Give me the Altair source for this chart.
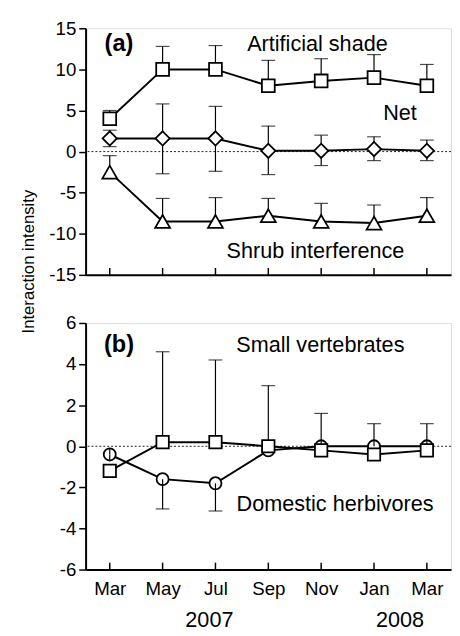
import altair as alt
import pandas as pd

periods = ["Mar 2007", "May 2007", "Jul 2007", "Sep 2007", "Nov 2007", "Jan 2008", "Mar 2008"]
y_ticks_a = [-15, -10, -5, 0, 5, 10, 15]
y_ticks_b = [-6, -4, -2, 0, 2, 4, 6]

# Panel (a)
shade = [4.0, 10.0, 10.0, 8.0, 8.6, 9.0, 8.0]
shade_hi = [5.0, 12.8, 12.9, 11.1, 11.3, 11.8, 10.6]
net = [1.6, 1.6, 1.6, 0.1, 0.1, 0.3, 0.1]
net_hi = [2.6, 5.8, 5.5, 3.1, 2.0, 1.8, 1.4]
net_lo = [0.6, -2.7, -2.4, -2.8, -1.7, -1.1, -1.1]
shrub = [-2.5, -8.5, -8.5, -7.8, -8.5, -8.7, -7.8]
shrub_hi = [-0.5, -5.7, -5.6, -5.7, -6.3, -6.5, -5.6]

# Panel (b)
small_vert = [-1.2, 0.2, 0.2, 0.0, -0.2, -0.4, -0.2]
small_vert_hi = [None, 4.6, 4.2, 2.95, None, None, None]
herb = [-0.4, -1.6, -1.8, -0.2, 0.0, 0.0, 0.0]
herb_hi = [-0.1, None, None, None, 1.6, 1.1, 1.1]
herb_lo = [-0.7, -3.05, -3.15, None, None, None, None]

FONT = "Liberation Sans"
W, H = 372, 251
XPAD = 0.457


def frame(vals, hi=None, lo=None):
    n = len(vals)
    return pd.DataFrame({
        "period": periods,
        "value": vals,
        "hi": hi if hi is not None else [None] * n,
        "lo": lo if lo is not None else [None] * n,
    })


def xscale():
    return alt.Scale(type="point", domain=periods, padding=XPAD)


def xenc(show_labels):
    if show_labels:
        ax = alt.Axis(labels=True, ticks=False, domain=True, domainColor="black", domainWidth=2,
                      labelExpr="split(datum.label, ' ')[0]", labelFont=FONT, labelFontSize=19,
                      labelColor="black", labelPadding=10, labelAngle=0, title=None, grid=False)
    else:
        ax = alt.Axis(labels=False, ticks=False, domain=True, domainColor="black", domainWidth=2,
                      title=None, grid=False)
    return alt.X("period:O", sort=periods, scale=xscale(), axis=ax)


def series_layers(df, shape, size, yscale, yaxis, show_labels):
    base = alt.Chart(df)
    y = alt.Y("value:Q", scale=yscale, axis=yaxis)
    x = xenc(show_labels)
    line = base.mark_line(color="black", strokeWidth=2).encode(x=x, y=y)
    pts = base.mark_point(shape=shape, size=size, filled=True, fill="white", stroke="black",
                          strokeWidth=1.8, opacity=1).encode(x=x, y=y)
    errs = []
    for col in ["hi", "lo"]:
        r = base.transform_filter(f"isValid(datum.{col})").mark_rule(color="black", strokeWidth=1.2).encode(
            x=x, y=y, y2=alt.Y2(f"{col}:Q"))
        c = base.transform_filter(f"isValid(datum.{col}) && abs(datum.{col} - datum.value) > 0.4").mark_tick(
            color="black", thickness=1.2, size=14, orient="horizontal").encode(
            x=x, y=alt.Y(f"{col}:Q", scale=yscale, axis=yaxis))
        errs += [r, c]
    return line, pts, errs


def text_layer(label, px, py, size=22, weight="normal", angle=0):
    return alt.Chart(pd.DataFrame({"label": [label]})).mark_text(
        font=FONT, fontSize=size, fontWeight=weight, color="black", align="center", baseline="middle",
        angle=angle
    ).encode(x=alt.value(px), y=alt.value(py), text="label:N")


def zero_rule():
    return alt.Chart(pd.DataFrame({"z": [0]})).mark_rule(
        color="#222222", strokeWidth=1, strokeDash=[2, 2]).encode(y=alt.datum(0))


def inner_ticks():
    return alt.Chart(pd.DataFrame({"period": periods})).mark_rule(color="black", strokeWidth=1.5).encode(
        x=alt.X("period:O", sort=periods, scale=xscale()),
        y=alt.value(H), y2=alt.value(H - 7))


def yaxis(vals):
    return alt.Axis(values=vals, domainColor="black", domainWidth=2, tickColor="black", tickWidth=1.5,
                    tickSize=7, labelFont=FONT, labelFontSize=19, labelColor="black", labelPadding=3,
                    labelExpr="toString(datum.value)", grid=False, title=None)


# ---- Panel a ----
ys_a = alt.Scale(domain=[-15, 15], nice=False, zero=False)
ya = yaxis(y_ticks_a)

la = []
for vals, hi, lo, shp, sz in [(shade, shade_hi, None, "square", 170),
                              (net, net_hi, net_lo, "diamond", 210),
                              (shrub, shrub_hi, None, "triangle-up", 230)]:
    line, pts, errs = series_layers(frame(vals, hi, lo), shp, sz, ys_a, ya, False)
    la.append((line, pts, errs))

layers_a = [zero_rule()] + [l for l, p, e in la] + [x for l, p, e in la for x in e] + [p for l, p, e in la] + [
    inner_ticks(),
    text_layer("(a)", 34, 16.5, 24, "bold"),
    text_layer("Artificial shade", 236, 16),
    text_layer("Net", 320, 86.5),
    text_layer("Shrub interference", 234, 226.5),
    text_layer("Interaction intensity", -58, 237.5, 17, "normal", 270),
]
panel_a = alt.layer(*layers_a).properties(width=W, height=H)

# ---- Panel b ----
ys_b = alt.Scale(domain=[-6, 6], nice=False, zero=False)
yb = yaxis(y_ticks_b)

l_h, p_h, e_h = series_layers(frame(herb, herb_hi, herb_lo), "circle", 150, ys_b, yb, True)
l_s, p_s, e_s = series_layers(frame(small_vert, small_vert_hi, None), "square", 160, ys_b, yb, True)

layers_b = [zero_rule(), l_h, l_s, p_h] + e_h + e_s + [p_s, inner_ticks(),
    text_layer("(b)", 34, 22.5, 24, "bold"),
    text_layer("Small vertebrates", 239, 22.5),
    text_layer("Domestic herbivores", 254, 184.5),
    text_layer("2007", 126, 302.5, 22),
    text_layer("2008", 320, 302.5, 22),
]
panel_b = alt.layer(*layers_b).properties(width=W, height=H)

chart = alt.vconcat(panel_a, panel_b, spacing=49, bounds="flush").resolve_scale(y="independent").properties(
    padding={"left": 11, "top": 5, "right": 0, "bottom": 0}
).configure_view(stroke=None).configure(background="white")

chart.save("out.html", embed_options={"renderer": "svg", "actions": False})
